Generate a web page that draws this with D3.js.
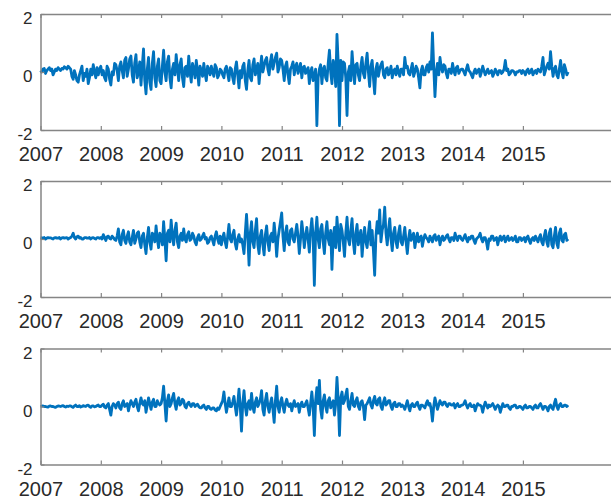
<!DOCTYPE html>
<html>
<head>
<meta charset="utf-8">
<script src="https://cdn.jsdelivr.net/npm/d3@7"></script>
<style>
  html, body { margin: 0; padding: 0; background: #fff; }
  svg { display: block; }
</style>
</head>
<body>
<svg id="chart" width="611" height="502"></svg>
<script>
// ---- data (weekly-ish observations, 48 per year, starting Jan 2007) ----
const startYear = 2007;
const pointsPerYear = 48;
const xTickYears = [2007, 2008, 2009, 2010, 2011, 2012, 2013, 2014, 2015];
const yTickValues = [-2, 0, 2];

const series1 = [
  // 2007
  0.05,0.0, 0.1,0.12, -0.05,0.05, 0.1,0.15, 0.05,0.1, -0.1,0.0, 0.1,0.05, 0.15,0.1, 0.05,0.12, 0.1,0.18, 0.15,0.1, 0.2,0.15, 0.1,-0.15, -0.25,0.05, -0.1,-0.3, -0.35,-0.1, 0.05,0.2, -0.3,-0.05, -0.15,0.1, -0.4,-0.2, 0.1,-0.1, 0.25,0.0, -0.2,0.15, -0.1,0.1,
  // 2008
  0.2,-0.1, 0.05,-0.2, -0.3,0.2, 0.1,-0.25, -0.45,0.0, -0.1,0.3, 0.25,0.05, -0.3,0.2, 0.35,0.05, -0.2,0.4, 0.5,-0.15, 0.1,0.45, 0.55,-0.1, -0.35,0.3, 0.6,-0.2, 0.0,0.35, -0.45,0.2, 0.8,-0.3, -0.75,0.1, 0.5,-0.35, -0.6,0.3, 0.7,-0.2, -0.5,0.2, 0.45,-0.3,
  // 2009
  -0.4,0.2, 0.75,0.0, -0.3,0.35, 0.55,-0.2, -0.55,0.1, 0.3,-0.1, 0.6,0.15, -0.3,0.25, 0.45,-0.2, -0.5,0.15, 0.2,-0.15, 0.55,0.0, -0.35,0.3, 0.1,-0.2, 0.4,0.05, -0.45,0.2, 0.05,-0.15, 0.3,-0.05, -0.3,0.2, 0.1,-0.1, 0.2,0.0, -0.15,0.25, 0.15,-0.2, -0.1,0.1,
  // 2010
  0.05,-0.1, -0.2,0.1, 0.2,-0.05, -0.3,0.15, 0.1,-0.2, -0.4,0.1, 0.35,-0.1, -0.55,0.05, -0.2,0.2, 0.3,-0.3, -0.6,0.05, 0.4,-0.2, -0.3,0.25, 0.45,-0.1, 0.1,0.3, -0.4,0.1, 0.55,0.0, 0.2,0.4, 0.5,0.1, -0.1,0.35, 0.6,0.1, 0.3,0.5, 0.65,0.0, 0.15,0.45,
  // 2011
  0.4,0.1, -0.3,0.2, 0.35,-0.1, -0.4,0.1, 0.2,0.35, -0.1,0.2, 0.3,-0.05, 0.1,0.3, -0.2,0.15, 0.2,-0.05, 0.05,0.15, -0.4,0.0, 0.15,-0.3, -0.15,0.1, -1.85,-0.2, 0.1,0.25, -0.4,0.1, 0.2,-0.2, -0.3,0.3, 0.75,0.0, -0.4,0.4, 0.2,-0.5, 1.3,0.3, -1.85,0.4,
  // 2012
  -0.3,0.35, 0.3,-0.2, -1.5,0.0, 0.2,-0.3, 0.7,0.1, -0.4,0.25, 0.3,-0.1, -0.3,0.2, 0.5,-0.05, -0.2,0.3, 0.65,0.0, -0.5,0.2, 0.4,-0.2, -0.75,0.1, 0.3,-0.15, 0.1,0.25, 0.35,-0.1, -0.2,0.1, 0.15,-0.1, 0.0,0.2, -0.2,0.05, 0.1,-0.1, 0.2,0.0, -0.15,0.1,
  // 2013
  0.1,-0.1, 0.5,0.15, 0.2,-0.05, -0.1,0.1, 0.3,-0.15, 0.0,0.2, 0.1,-0.2, -0.55,0.05, 0.2,-0.1, -0.1,0.15, 0.25,0.0, 0.35,0.1, 1.35,0.2, -0.85,0.0, 0.3,-0.1, 0.5,0.15, 0.0,0.25, 0.2,-0.05, -0.2,0.1, 0.1,-0.05, 0.3,0.05, -0.1,0.15, 0.2,-0.05, 0.05,0.1,
  // 2014
  0.1,0.0, -0.1,0.1, 0.25,0.05, 0.0,-0.1, -0.2,0.0, 0.1,-0.05, 0.05,0.1, -0.15,0.0, 0.2,0.05, -0.1,0.0, 0.1,-0.05, 0.0,0.05, -0.15,-0.05, 0.1,0.0, -0.1,0.05, 0.05,-0.05, 0.0,0.1, 0.4,0.05, 0.1,-0.1, -0.05,0.05, 0.05,0.0, -0.1,0.0, 0.0,0.05, 0.05,-0.05,
  // 2015
  0.05,0.0, -0.1,0.05, 0.1,-0.05, 0.0,0.1, -0.1,0.0, 0.05,-0.05, 0.1,0.05, 0.0,0.2, 0.5,-0.1, 0.05,0.2, 0.3,0.1, 0.7,0.2, -0.15,0.1, 0.2,-0.1, -0.2,0.1, 0.4,0.0, -0.2,0.25, 0.1,-0.1, 0.0
];

const series2 = [
  // 2007
  0.05,0.04, 0.03,0.05, 0.0,0.03, 0.05,0.04, 0.04,0.02, 0.0,0.04, 0.05,0.03, 0.03,0.05, 0.0,0.04, 0.05,0.03, 0.04,0.05, 0.0,0.03, 0.05,0.1, 0.2,0.05, 0.0,0.08, 0.1,0.03, 0.05,0.0, 0.0,0.05, 0.05,0.03, 0.03,0.05, 0.0,0.04, 0.05,0.02, 0.0,0.05, 0.05,0.02,
  // 2008
  0.05,0.0, 0.15,0.05, -0.05,0.08, 0.1,0.02, 0.0,0.1, 0.05,-0.02, -0.05,0.1, 0.35,-0.1, -0.2,0.15, 0.3,-0.05, -0.15,0.1, 0.25,-0.1, -0.2,0.05, 0.3,-0.15, 0.0,0.2, 0.25,-0.1, -0.3,0.1, 0.2,-0.2, -0.5,0.05, 0.4,-0.1, -0.35,0.2, 0.15,-0.1, 0.45,0.0, -0.3,0.2,
  // 2009
  0.1,-0.2, 0.6,0.0, -0.75,0.2, 0.3,-0.1, 0.65,0.1, -0.2,0.3, 0.55,-0.1, -0.3,0.1, 0.2,-0.05, 0.35,0.0, -0.1,0.15, 0.25,-0.05, 0.0,0.2, 0.1,-0.1, -0.2,0.05, 0.15,-0.05, 0.0,0.1, 0.2,0.0, 0.05,-0.15, -0.1,0.05, 0.1,-0.05, -0.2,0.1, 0.25,0.0, -0.15,0.1,
  // 2010
  -0.2,0.05, 0.2,-0.1, -0.3,0.1, 0.5,0.0, -0.1,0.15, 0.3,-0.15, -0.35,0.0, 0.15,-0.1, 0.0,-0.2, -0.5,0.2, 0.85,0.1, -0.9,0.2, 0.6,-0.1, -0.3,0.3, 0.7,-0.2, -0.5,0.1, 0.3,-0.2, -0.55,0.15, 0.45,-0.1, -0.4,0.1, 0.2,-0.1, 0.55,0.1, -0.6,0.0, 0.3,0.6,
  // 2011
  0.9,0.1, -0.4,0.2, 0.45,-0.1, -0.2,0.3, 0.35,0.0, -0.1,0.2, 0.5,0.1, -0.5,0.0, 0.6,0.2, -0.3,0.1, 0.4,0.0, -0.45,0.3, 0.7,0.1, -1.6,0.2, 0.75,0.0, -0.3,0.35, 0.5,-0.1, -0.5,0.2, 0.6,0.0, -0.2,0.3, -1.05,0.1, 0.4,-0.3, 0.75,0.1, -0.4,0.5,
  // 2012
  0.3,-0.1, -0.6,0.2, 0.75,0.0, -0.2,0.3, 0.7,-0.1, -0.5,0.2, 0.5,-0.2, 0.1,0.3, -0.6,0.0, 0.4,-0.1, -0.3,0.2, 0.6,-0.2, 0.3,-0.4, -1.25,0.1, 0.6,0.2, 1.0,-0.1, 0.3,0.5, 1.1,0.2, -0.2,0.3, 0.7,0.0, -0.4,0.2, 0.4,-0.1, -0.3,0.2, 0.45,-0.1,
  // 2013
  -0.2,0.1, 0.4,-0.1, -0.5,0.0, 0.3,-0.05, 0.1,0.2, -0.3,0.0, 0.2,-0.1, 0.05,0.1, -0.25,0.0, 0.15,0.05, 0.0,-0.1, 0.1,0.0, -0.1,0.1, 0.15,-0.05, 0.05,0.1, -0.2,0.0, 0.1,-0.05, 0.0,0.1, 0.15,0.0, -0.1,0.05, 0.05,-0.05, 0.2,0.05, -0.05,0.1, 0.1,0.0,
  // 2014
  -0.05,0.05, 0.15,0.0, -0.1,0.05, 0.0,0.1, 0.1,-0.05, -0.15,0.0, 0.05,0.1, 0.2,0.0, -0.1,0.05, 0.05,-0.1, -0.35,0.0, -0.05,0.1, 0.1,-0.05, 0.0,0.05, -0.2,0.0, 0.1,-0.05, 0.05,0.1, -0.1,0.0, 0.1,-0.05, 0.0,0.05, -0.05,0.0, 0.1,-0.1, -0.1,0.05, 0.05,-0.05,
  // 2015
  0.0,0.05, -0.1,0.05, 0.1,-0.05, -0.15,0.0, 0.05,-0.05, 0.1,0.0, -0.1,0.05, 0.15,-0.1, -0.2,0.1, 0.3,-0.1, -0.25,0.2, 0.35,-0.2, -0.3,0.1, 0.4,-0.15, -0.3,0.2, 0.35,-0.05, -0.1,0.15, 0.2,-0.05, 0.0
];

const series3 = [
  // 2007
  0.0,0.01, 0.02,0.0, 0.0,-0.01, -0.02,0.01, 0.02,0.0, 0.0,-0.02, -0.03,0.0, 0.02,0.01, 0.0,0.02, 0.03,0.0, -0.02,0.01, 0.0,0.02, 0.02,-0.01, -0.03,0.02, 0.05,0.0, 0.0,0.03, -0.02,0.0, 0.03,0.01, 0.0,0.04, 0.05,0.0, -0.03,0.02, 0.02,-0.01, 0.0,0.03, 0.05,0.0,
  // 2008
  0.0,0.05, 0.08,-0.02, -0.05,0.05, 0.1,-0.1, -0.3,0.0, 0.1,0.05, -0.05,0.1, 0.15,-0.05, -0.1,0.1, 0.2,0.0, 0.05,0.1, -0.15,0.05, 0.2,0.1, 0.0,0.15, 0.25,0.0, -0.15,0.1, 0.3,0.1, 0.05,0.2, -0.2,0.05, 0.3,0.1, -0.1,0.15, 0.25,0.0, 0.0,0.2, 0.1,0.05,
  // 2009
  0.1,0.3, 0.7,0.1, -0.5,0.2, 0.4,0.0, 0.1,0.3, 0.45,0.1, -0.1,0.2, 0.3,0.05, 0.1,0.25, 0.2,0.0, -0.05,0.1, 0.15,0.05, 0.0,0.1, 0.1,0.0, 0.05,0.08, 0.0,-0.05, -0.05,0.02, 0.05,-0.05, -0.1,0.0, 0.0,-0.08, -0.1,-0.05, -0.05,-0.12, -0.15,-0.05, -0.1,0.0,
  // 2010
  0.1,0.2, 0.5,0.1, -0.2,0.05, 0.3,0.0, 0.0,0.15, 0.35,0.0, -0.3,0.1, 0.6,0.0, -0.85,0.1, 0.55,0.0, -0.3,0.1, 0.2,-0.1, 0.45,0.0, -0.2,0.15, 0.3,0.0, 0.1,0.25, 0.55,-0.1, -0.3,0.2, 0.45,0.0, -0.2,0.1, 0.3,-0.1, -0.55,0.2, 0.7,0.0, -0.2,0.15,
  // 2011
  0.3,0.0, -0.2,0.1, 0.25,0.05, 0.0,0.1, -0.15,0.05, 0.2,0.0, 0.05,0.1, -0.2,0.05, 0.15,0.0, 0.0,0.1, 0.2,-0.05, -0.3,0.1, 0.5,0.0, -1.0,0.2, 0.65,0.1, 0.9,-0.1, -0.4,0.2, 0.4,0.0, -0.2,0.2, 0.3,-0.05, 0.1,0.2, -0.3,0.1, 1.0,0.2, -1.0,0.3,
  // 2012
  0.5,0.1, 0.2,0.4, 0.6,0.0, -0.1,0.2, 0.45,0.05, 0.0,0.2, 0.3,0.0, -0.1,0.15, 0.2,0.0, -0.45,0.05, 0.1,0.2, 0.3,0.05, -0.05,0.2, 0.35,0.1, 0.05,0.25, 0.3,0.0, -0.1,0.15, 0.3,0.05, 0.1,0.2, 0.2,0.0, -0.1,0.1, 0.15,0.0, 0.0,0.1, 0.1,0.0,
  // 2013
  0.05,0.0, -0.1,0.05, 0.2,0.0, -0.15,0.05, 0.1,0.0, 0.0,0.1, 0.15,0.0, -0.1,0.05, 0.05,0.0, -0.05,0.1, 0.2,0.05, 0.1,-0.1, -0.5,0.0, 0.3,0.1, -0.1,0.05, 0.2,0.1, 0.05,0.15, 0.15,0.05, 0.0,0.1, 0.1,0.05, 0.05,0.1, -0.05,0.05, 0.1,0.0, 0.0,0.05,
  // 2014
  0.05,0.1, 0.2,0.05, -0.05,0.05, 0.1,0.0, 0.0,0.05, -0.15,0.0, 0.1,0.05, 0.05,0.0, -0.2,0.0, 0.15,0.05, -0.05,0.05, 0.0,0.05, 0.1,0.0, -0.1,0.0, 0.05,0.0, -0.2,-0.05, 0.1,0.0, 0.0,0.05, 0.05,-0.05, -0.1,0.0, 0.0,0.05, 0.05,-0.05, -0.05,0.0, 0.0,-0.05,
  // 2015
  -0.1,0.0, 0.05,-0.05, -0.05,0.0, 0.0,-0.05, -0.1,0.0, 0.05,-0.05, -0.05,0.05, 0.1,0.0, -0.1,0.0, 0.0,-0.05, -0.15,0.0, 0.05,-0.05, -0.1,0.1, 0.25,0.0, -0.1,0.05, 0.1,0.0, 0.0,0.05, 0.05,0.0, 0.05
];

const allSeries = [series1, series2, series3];

// ---- layout ----
const panelTops = [14, 181, 348.5];
const panelHeight = 116;
const left = 40.5;
const pxPerYear = 60.3;
const xDomainEnd = 2017;
const axisColor = "#858585";
const textColor = "#2a2a2a";
const lineColor = "#0072BD";

const svg = d3.select("#chart");

const x = d3.scaleLinear()
  .domain([startYear, xDomainEnd])
  .range([left, left + pxPerYear * (xDomainEnd - startYear)]);

allSeries.forEach((series, k) => {
  const top = panelTops[k];
  const bottom = top + panelHeight;
  const y = d3.scaleLinear().domain([-2, 2]).range([bottom, top]);
  const g = svg.append("g");

  const line = d3.line()
    .x((d, i) => x(startYear + i / pointsPerYear))
    .y(d => y(d));
  g.append("path")
    .datum(series)
    .attr("fill", "none")
    .attr("stroke", lineColor)
    .attr("stroke-width", 2.8)
    .attr("stroke-linejoin", "round")
    .attr("d", line);

  const xAxisB = d3.axisBottom(x).tickValues(xTickYears).tickFormat(d3.format("d"))
    .tickSizeInner(-4).tickSizeOuter(0).tickPadding(18);
  const gb = g.append("g").attr("transform", `translate(0,${bottom})`).call(xAxisB);
  const xAxisT = d3.axisTop(x).tickValues(xTickYears).tickFormat("")
    .tickSizeInner(-4).tickSizeOuter(0);
  const gt = g.append("g").attr("transform", `translate(0,${top})`).call(xAxisT);
  const yAxisL = d3.axisLeft(y).tickValues(yTickValues).tickFormat(d3.format("d"))
    .tickSizeInner(-4).tickSizeOuter(0).tickPadding(12);
  const gl = g.append("g").attr("transform", `translate(${left},0)`).call(yAxisL);

  [gb, gt, gl].forEach(a => {
    a.select(".domain").attr("stroke", axisColor).attr("stroke-width", 1.5);
    a.selectAll(".tick line").attr("stroke", axisColor).attr("stroke-width", 1.2);
  });
  gb.selectAll(".tick text")
    .attr("fill", textColor)
    .attr("font-family", "'Liberation Sans', Arial, Helvetica, sans-serif")
    .attr("font-size", 20)
    .attr("dy", null)
    .attr("y", 31);
  gl.selectAll(".tick text")
    .attr("fill", textColor)
    .attr("font-family", "'Liberation Sans', Arial, Helvetica, sans-serif")
    .attr("font-size", 17)
    .attr("x", -8)
    .attr("dy", null)
    .attr("y", 9.5)
    .text(d => d < 0 ? "-" + Math.abs(d) : d);
});
</script>
</body>
</html>
